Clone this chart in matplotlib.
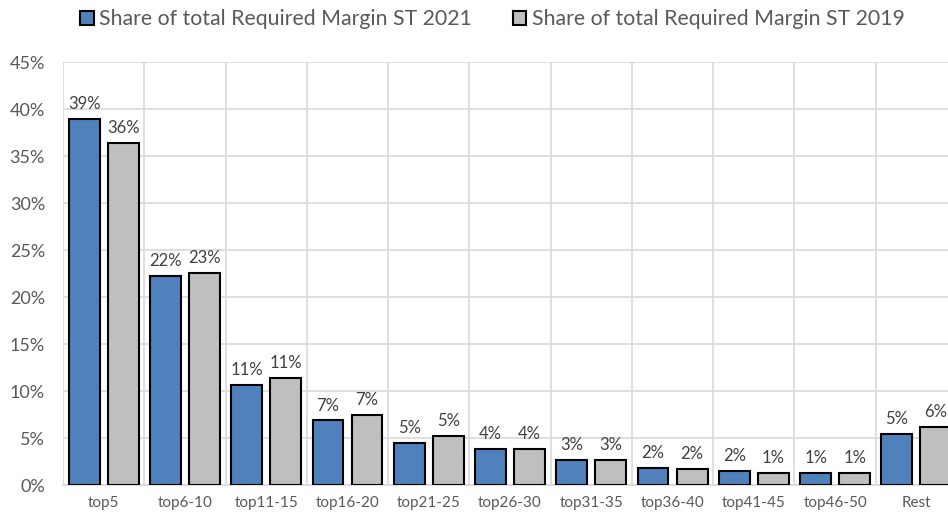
import matplotlib
matplotlib.use("Agg")
import matplotlib.pyplot as plt
import numpy as np

categories = ["top5", "top6-10", "top11-15", "top16-20", "top21-25", "top26-30",
              "top31-35", "top36-40", "top41-45", "top46-50", "Rest"]
share_2021 = [38.95, 22.2, 10.6, 6.87, 4.52, 3.85, 2.64, 1.85, 1.53, 1.25, 5.45]
share_2019 = [36.35, 22.6, 11.35, 7.47, 5.2, 3.83, 2.62, 1.75, 1.32, 1.25, 6.22]
legend_labels = ["Share of total Required Margin ST 2021",
                 "Share of total Required Margin ST 2019"]
yticks = [0, 5, 10, 15, 20, 25, 30, 35, 40, 45]

plt.rcParams["font.family"] = ["Lato", "DejaVu Sans"]

fig = plt.figure(figsize=(9.48, 5.18), dpi=100)
ax = fig.add_axes([0.0665, 0.0637, 0.943, 0.8163])

x = np.arange(len(categories))
w = 0.38
off = 0.24
b1 = ax.bar(x - off, share_2021, w, color="#4F81BD", edgecolor="black", lw=1.5,
            label=legend_labels[0], zorder=3)
b2 = ax.bar(x + off, share_2019, w, color="#BFBFBF", edgecolor="black", lw=1.5,
            label=legend_labels[1], zorder=3)

for bars, vals in [(b1, share_2021), (b2, share_2019)]:
    for r, v in zip(bars, vals):
        ax.annotate(f"{v:.0f}%", (r.get_x() + r.get_width() / 2, v),
                    xytext=(0, 5), textcoords="offset points", ha="center", va="bottom",
                    fontsize=12, color="#404040")

ax.set_xlim(-0.5, len(categories) - 0.5)
ax.set_ylim(0, 45)
ax.set_yticks(yticks)
ax.set_yticklabels([f"{t}%" for t in yticks])
ax.set_xticks(x)
ax.set_xticklabels(categories)
ax.set_xticks(np.arange(len(categories) + 1) - 0.5, minor=True)
ax.grid(True, which="minor", axis="x", color="#D9D9D9", lw=1.2, zorder=0)
ax.grid(True, which="major", axis="y", color="#D9D9D9", lw=1.2, zorder=0)
ax.tick_params(axis="both", which="both", length=0)
ax.tick_params(axis="y", labelsize=13, labelcolor="#595959", pad=13)
ax.tick_params(axis="x", labelsize=11, labelcolor="#595959", pad=8)
for s in ["top", "right", "left"]:
    ax.spines[s].set_visible(False)
ax.spines["bottom"].set_color("#D9D9D9")
ax.spines["bottom"].set_linewidth(1.2)

fig.legend(handles=[b1, b2], loc="center", bbox_to_anchor=(0.5195, 0.963), ncol=2,
           frameon=False, fontsize=15.3, labelcolor="#595959", handlelength=0.65,
           handleheight=0.65, handletextpad=0.25, columnspacing=1.9)

fig.savefig("out.png", dpi=100)
